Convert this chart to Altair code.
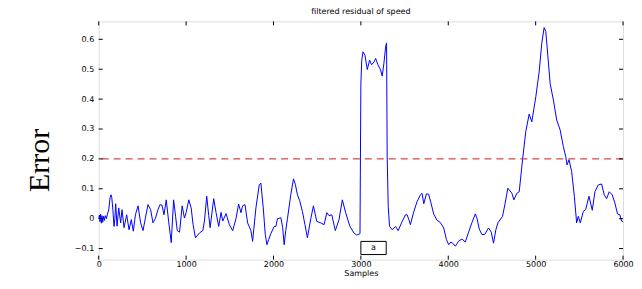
import altair as alt
import pandas as pd

# ---- data ----
samples = [0, 8, 15, 22, 30, 38, 46, 55, 65, 75, 88, 100, 115, 130, 140, 150, 162, 175, 185, 194,
           210, 229, 251, 267, 290, 320, 347, 373, 396, 420, 450, 480, 507, 534, 564, 594, 621, 648,
           678, 701, 724, 747, 773, 800, 830, 857, 880, 899, 925, 955, 981, 1000, 1031, 1058, 1080,
           1107, 1152, 1191, 1210, 1236, 1259, 1275, 1316, 1343, 1373, 1400, 1419, 1457, 1495, 1533,
           1571, 1601, 1628, 1647, 1674, 1704, 1742, 1761, 1799, 1837, 1856, 1883, 1906, 1925, 1945,
           1970, 2008, 2027, 2046, 2085, 2105, 2122, 2140, 2160, 2198, 2229, 2250, 2274, 2300, 2331,
           2360, 2388, 2427, 2457, 2495, 2541, 2579, 2610, 2636, 2667, 2708, 2750, 2788, 2826, 2875,
           2921, 2952, 2978, 2990, 2995, 3000, 3010, 3024, 3047, 3073, 3100, 3123, 3150, 3169, 3195,
           3226, 3244, 3263, 3283, 3294, 3301, 3313, 3328, 3358, 3397, 3427, 3473, 3511, 3529, 3549,
           3567, 3606, 3644, 3682, 3700, 3720, 3750, 3775, 3800, 3834, 3870, 3910, 3948, 3979, 4005,
           4030, 4051, 4081, 4119, 4157, 4195, 4233, 4271, 4310, 4330, 4355, 4385, 4416, 4461, 4492,
           4518, 4545, 4568, 4621, 4650, 4682, 4728, 4751, 4785, 4812, 4850, 4887, 4926, 4956, 5002,
           5040, 5070, 5097, 5116, 5139, 5166, 5203, 5241, 5280, 5317, 5344, 5359, 5382, 5412, 5443,
           5469, 5488, 5511, 5545, 5572, 5610, 5648, 5679, 5717, 5755, 5785, 5812, 5842, 5876, 5907,
           5937, 5964, 5983, 6000]
error = [0.0, 0.012, -0.01, 0.015, -0.015, 0.01, -0.012, 0.008, -0.006, 0.01, 0.0, 0.015, 0.03,
         0.07, 0.08, 0.07, 0.03, -0.026, 0.0, 0.05, -0.025, 0.036, -0.014, 0.03, -0.03, 0.013,
         -0.037, -0.003, -0.042, 0.013, 0.043, -0.014, -0.04, 0.002, 0.047, 0.03, -0.014, 0.0, 0.03,
         0.047, 0.045, 0.013, 0.063, -0.008, -0.08, 0.063, 0.007, -0.04, -0.045, 0.043, 0.002, 0.02,
         0.063, 0.036, -0.02, -0.064, -0.048, -0.04, -0.008, 0.075, 0.01, -0.03, 0.067, 0.02, -0.026,
         0.021, -0.008, 0.017, -0.02, -0.04, 0.0, 0.049, 0.02, 0.043, 0.047, -0.014, -0.04, -0.076,
         0.036, 0.113, 0.119, 0.036, -0.053, -0.087, -0.07, -0.05, -0.026, -0.026, 0.0, 0.003, -0.03,
         -0.087, -0.04, 0.0, 0.08, 0.133, 0.115, 0.08, 0.06, 0.024, -0.02, -0.064, 0.0, 0.043,
         -0.009, -0.014, -0.02, 0.02, 0.01, 0.013, -0.04, -0.003, 0.063, 0.02, -0.026, -0.048,
         -0.055, -0.052, -0.05, 0.2, 0.45, 0.53, 0.558, 0.547, 0.499, 0.53, 0.515, 0.524, 0.536,
         0.515, 0.497, 0.477, 0.518, 0.574, 0.588, 0.208, 0.041, -0.026, -0.037, -0.026, -0.04,
         -0.009, 0.013, 0.013, -0.003, -0.02, 0.024, 0.058, 0.08, 0.085, 0.05, 0.083, 0.082, 0.055,
         0.015, -0.005, -0.013, -0.031, -0.07, -0.087, -0.078, -0.082, -0.092, -0.075, -0.068,
         -0.078, -0.045, -0.013, 0.016, 0.0, -0.035, -0.053, -0.053, -0.031, -0.045, -0.082, -0.037,
         -0.014, 0.008, 0.05, 0.102, 0.085, 0.063, 0.085, 0.09, 0.197, 0.291, 0.35, 0.324, 0.408,
         0.491, 0.586, 0.639, 0.626, 0.547, 0.452, 0.397, 0.33, 0.297, 0.241, 0.208, 0.18, 0.197,
         0.158, 0.074, -0.014, 0.008, -0.014, 0.024, 0.03, 0.075, 0.028, 0.091, 0.113, 0.116, 0.08,
         0.067, 0.09, 0.08, 0.052, 0.016, 0.013, -0.008, -0.01]

threshold = [0.2]
x_ticks = [0, 1000, 2000, 3000, 4000, 5000, 6000]
y_ticks = [-0.1, 0, 0.1, 0.2, 0.3, 0.4, 0.5, 0.6]
box_label = ["a"]
box_x = [3000]
box_x2 = [3290]
box_y = [-0.076]
box_y2 = [-0.12]

W, H = 526, 239
X_DOMAIN = [0, 6000]
Y_DOMAIN = [-0.137, 0.66]

df = pd.DataFrame({"Samples": samples, "Error": error})
xs = alt.Scale(domain=X_DOMAIN, nice=False, zero=False)
ys = alt.Scale(domain=Y_DOMAIN, nice=False, zero=False)

FONT = "DejaVu Sans"

x_axis = alt.Axis(values=x_ticks, format="d", ticks=False, domain=False, grid=False,
                  labelFont=FONT, labelFontSize=8, labelColor="black", labelPadding=1,
                  labelFlush=False, labelOverlap=False,
                  title="Samples", titleFont=FONT, titleFontSize=8,
                  titleFontWeight="normal", titleColor="black",
                  titleY=14, titleBaseline="middle")
y_axis = alt.Axis(values=y_ticks, format="~g", ticks=False, domain=False, grid=False,
                  labelFont=FONT, labelFontSize=8, labelColor="black", labelPadding=5,
                  labelFlush=False, labelOverlap=False,
                  title="Error", titleFont="Liberation Serif", titleFontSize=30,
                  titleFontWeight="normal", titleColor="black",
                  titleX=-59, titleY=139, titleAlign="center", titleBaseline="middle")


def X(field):
    return alt.X(field, scale=xs, axis=x_axis, title="Samples")


def Y(field):
    return alt.Y(field, scale=ys, axis=y_axis, title="Error")


line = alt.Chart(df).mark_line(color="#0000ff", strokeWidth=1).encode(
    x=X("Samples:Q"), y=Y("Error:Q"))

thr = alt.Chart(pd.DataFrame({"t": threshold})).mark_rule(
    color="#d01818", strokeWidth=1, strokeDash=[7, 5]).encode(y=Y("t:Q"))

tdf = pd.DataFrame({"v": x_ticks})
ydf = pd.DataFrame({"v": y_ticks})
xt_bottom = alt.Chart(tdf).mark_rule(color="black", strokeWidth=1).encode(
    x=X("v:Q"), y=alt.value(H), y2=alt.value(H - 4))
xt_top = alt.Chart(tdf).mark_rule(color="black", strokeWidth=1).encode(
    x=X("v:Q"), y=alt.value(0), y2=alt.value(4))
yt_left = alt.Chart(ydf).mark_rule(color="black", strokeWidth=1).encode(
    y=Y("v:Q"), x=alt.value(0), x2=alt.value(4))
yt_right = alt.Chart(ydf).mark_rule(color="black", strokeWidth=1).encode(
    y=Y("v:Q"), x=alt.value(W), x2=alt.value(W - 4))

bdf = pd.DataFrame({"x": box_x, "x2": box_x2, "y": box_y, "y2": box_y2, "lab": box_label})
box = alt.Chart(bdf).mark_rect(fill="white", stroke="black", strokeWidth=1).encode(
    x=X("x:Q"), x2="x2:Q", y=Y("y:Q"), y2="y2:Q")
box_text = alt.Chart(bdf).transform_calculate(
    xm="(datum.x + datum.x2) / 2", ym="(datum.y + datum.y2) / 2").mark_text(
    font=FONT, fontSize=8, color="black", baseline="middle", align="center").encode(
    x=X("xm:Q"), y=Y("ym:Q"), text="lab:N")

chart = alt.layer(line, thr, xt_bottom, xt_top, yt_left, yt_right, box, box_text).properties(
    width=W, height=H,
    title=alt.TitleParams("filtered residual of speed", font=FONT, fontSize=8,
                          fontWeight="normal", color="black", offset=5, anchor="middle"),
    autosize=alt.AutoSizeParams(type="none"),
    padding={"left": 91, "top": 13, "right": 11, "bottom": 20},
).configure_view(stroke="black", strokeWidth=1.5).configure_axis(
    labelOverlap=False).configure(background="white")

chart.save("out.html", embed_options={"renderer": "svg", "actions": False})
